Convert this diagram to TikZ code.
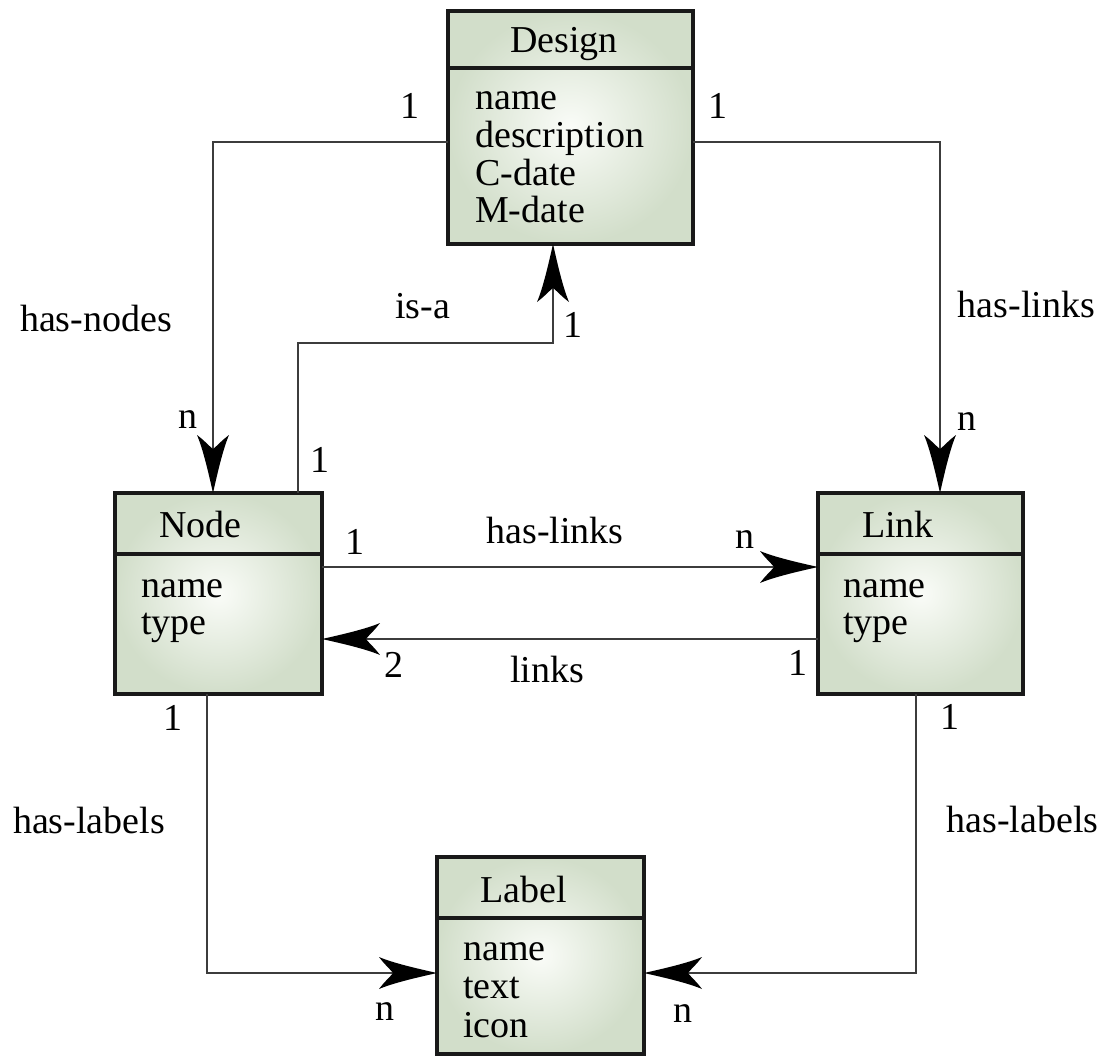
\documentclass[tikz,border=0pt]{standalone}
\usepackage{fontspec}
\setmainfont{Liberation Serif}
\usetikzlibrary{arrows.meta}
\definecolor{boxedge}{RGB}{210,222,202}
\definecolor{boxmid}{RGB}{250,252,248}
\definecolor{linegray}{RGB}{60,60,60}
\definecolor{borderc}{RGB}{25,25,25}
\pgfdeclarearrow{
  name = ERarrow,
  setup code = {
    \pgfarrowssettipend{0pt}
    \pgfarrowssetlineend{-40pt}
    \pgfarrowssetbackend{-58pt}
    \pgfarrowshullpoint{0pt}{0pt}
    \pgfarrowshullpoint{-58pt}{16pt}
    \pgfarrowshullpoint{-58pt}{-16pt}
  },
  drawing code = {
    \pgfpathmoveto{\pgfpoint{0pt}{0pt}}
    \pgfpathcurveto{\pgfpoint{-20pt}{4.5pt}}{\pgfpoint{-44pt}{10pt}}{\pgfpoint{-58pt}{16pt}}
    \pgfpathcurveto{\pgfpoint{-52pt}{8pt}}{\pgfpoint{-46pt}{3pt}}{\pgfpoint{-44pt}{0pt}}
    \pgfpathcurveto{\pgfpoint{-46pt}{-3pt}}{\pgfpoint{-52pt}{-8pt}}{\pgfpoint{-58pt}{-16pt}}
    \pgfpathcurveto{\pgfpoint{-44pt}{-10pt}}{\pgfpoint{-20pt}{-4.5pt}}{\pgfpoint{0pt}{0pt}}
    \pgfpathclose
    \pgfusepathqfill
  }
}
\begin{document}
\begin{tikzpicture}[x=1pt,y=-1pt,
  entity/.style={rectangle, draw=borderc, line width=4.5pt, inner color=boxmid, outer color=boxedge, outer sep=0pt, inner sep=0pt, anchor=north west},
  divider/.style={draw=borderc, line width=4.5pt},
  txt/.style={font=\fontsize{38}{40}\selectfont, inner sep=0pt, text=black},
  conn/.style={draw=linegray, line width=1.3pt, -{ERarrow[color=black]}},
]
\useasboundingbox (0,0) rectangle (1103,1057);

% entities
\node[entity, minimum width=245pt, minimum height=233pt] (design) at (448,11) {};
\node[entity, minimum width=207pt, minimum height=201pt] (nodeE) at (115,493) {};
\node[entity, minimum width=205pt, minimum height=201pt] (link) at (818,493) {};
\node[entity, minimum width=207pt, minimum height=197pt] (label) at (437,857) {};

\draw[divider] ([yshift=-57pt]design.north west) -- ([yshift=-57pt]design.north east);
\draw[divider] ([yshift=-61pt]nodeE.north west) -- ([yshift=-61pt]nodeE.north east);
\draw[divider] ([yshift=-61pt]link.north west) -- ([yshift=-61pt]link.north east);
\draw[divider] ([yshift=-61pt]label.north west) -- ([yshift=-61pt]label.north east);

% headers
\node[txt, anchor=base west] (designT) at (510,53) {Design};
\node[txt, anchor=base west] (nodeT) at (159,537) {Node};
\node[txt, anchor=base west] (linkT) at (862,537) {Link};
\node[txt, anchor=base west] (labelT) at (480,902) {Label};

% attributes
\foreach \t [count=\i] in {name,description,C-date,M-date}
  \node[txt, anchor=base west] (da\i) at (475, 72.5+37.5*\i) {\t};
\foreach \t [count=\i] in {name,type}
  \node[txt, anchor=base west] (na\i) at (141, 560+37*\i) {\t};
\foreach \t [count=\i] in {name,type}
  \node[txt, anchor=base west] (la\i) at (843, 560+37*\i) {\t};
\foreach \t [count=\i] in {name,text,icon}
  \node[txt, anchor=base west] (ba\i) at (463, 921.5+38.5*\i) {\t};

% connectors
\coordinate (isabend) at (553,343);
\draw[conn] ([yshift=-131pt]design.north west) -| ([xshift=98pt]nodeE.north west);
\draw[conn] ([yshift=-131pt]design.north east) -| ([xshift=122pt]link.north west);
\draw[conn] ([xshift=183pt]nodeE.north west) |- (isabend) -- ([xshift=105pt]design.south west);
\draw[conn] ([yshift=-74pt]nodeE.north east) -- ([yshift=-74pt]link.north west);
\draw[conn] ([yshift=-146pt]link.north west) -- ([yshift=-146pt]nodeE.north east);
\draw[conn] ([xshift=92pt]nodeE.south west) |- ([yshift=-116pt]label.north west);
\draw[conn] ([xshift=98pt]link.south west) |- ([yshift=-116pt]label.north east);

% connector labels
\node[txt, anchor=base] (c1) at (410,118) {1};
\node[txt, anchor=base] (c2) at (718,118) {1};
\node[txt, anchor=base] (c3) at (96,331) {has-nodes};
\node[txt, anchor=base] (c4) at (1026.5,317) {has-links};
\node[txt, anchor=base] (c5) at (422.5,318) {is-a};
\node[txt, anchor=base] (c6) at (573,337) {1};
\node[txt, anchor=base] (c7) at (188,428) {n};
\node[txt, anchor=base] (c8) at (967,430) {n};
\node[txt, anchor=base] (c9) at (320,472) {1};
\node[txt, anchor=base] (c10) at (355,554) {1};
\node[txt, anchor=base] (c11) at (555,543) {has-links};
\node[txt, anchor=base] (c12) at (745,548) {n};
\node[txt, anchor=base] (c13) at (394,677) {2};
\node[txt, anchor=base] (c14) at (547,682) {links};
\node[txt, anchor=base] (c15) at (798,675) {1};
\node[txt, anchor=base] (c16) at (173,730) {1};
\node[txt, anchor=base] (c17) at (950,729) {1};
\node[txt, anchor=base] (c18) at (89,833) {has-labels};
\node[txt, anchor=base] (c19) at (1022.5,832) {has-labels};
\node[txt, anchor=base] (c20) at (385,1020) {n};
\node[txt, anchor=base] (c21) at (683,1022) {n};
\end{tikzpicture}
\end{document}
